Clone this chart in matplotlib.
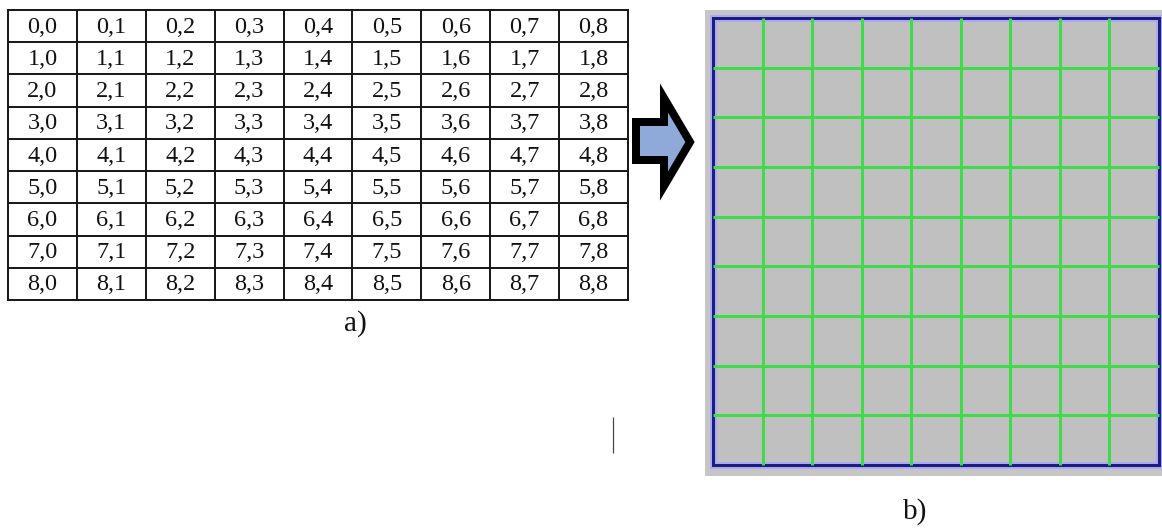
import matplotlib
matplotlib.use("Agg")
import matplotlib.pyplot as plt
from matplotlib.patches import Polygon, Rectangle

# ---- data ----
row_ids = [0, 1, 2, 3, 4, 5, 6, 7, 8]
col_ids = [0, 1, 2, 3, 4, 5, 6, 7, 8]
cell_labels = [[f"{r},{c}" for c in col_ids] for r in row_ids]
grid_cells = 9
caption_a = "a)"
caption_b = "b)"

W, H = 1162, 529
fig = plt.figure(figsize=(W / 100, H / 100), dpi=100)
ax = fig.add_axes([0, 0, 1, 1])
ax.set_xlim(0, W)
ax.set_ylim(H, 0)
ax.axis("off")

PX = 72 / 100  # points per pixel

# ---- table a) ----
tx0, tx1, ty0, ty1 = 8, 628, 10, 300
cw = (tx1 - tx0) / len(col_ids)
rh = (ty1 - ty0) / len(row_ids)
for i in range(len(row_ids) + 1):
    ax.plot([tx0, tx1], [ty0 + i * rh] * 2, color="#1a1a1a", lw=2.0 * PX,
            solid_capstyle="projecting")
for j in range(len(col_ids) + 1):
    ax.plot([tx0 + j * cw] * 2, [ty0, ty1], color="#1a1a1a", lw=2.0 * PX,
            solid_capstyle="projecting")
for r in row_ids:
    for c in col_ids:
        ax.text(tx0 + (c + 0.5) * cw, ty0 + (r + 0.5) * rh + 1,
                cell_labels[r][c], ha="center", va="center",
                fontsize=17.5, family="Liberation Serif", color="#111111")
ax.text(355, 324, caption_a, ha="center", va="center", fontsize=21,
        family="Liberation Serif", color="#111111")

# small stray vertical mark
ax.plot([613, 613], [417, 453], color="#444444", lw=1.2 * PX,
        solid_capstyle="butt")

# ---- arrow ----
arrow = Polygon([(636, 122), (664, 122), (664, 98), (690, 142),
                 (664, 186), (664, 160), (636, 160)], closed=True,
                facecolor="#8faad8", edgecolor="black", lw=8 * PX,
                joinstyle="miter")
ax.add_patch(arrow)

# ---- grid b) ----
ax.add_patch(Rectangle((705, 10), W - 705, 476 - 10, facecolor="#c6c6c6",
                       edgecolor="none"))
gx0, gx1, gy0, gy1 = 713, 1159, 18, 465
ax.add_patch(Rectangle((gx0, gy0), gx1 - gx0, gy1 - gy0, facecolor="#c0c0c0",
                       edgecolor="none"))
gw = (gx1 - gx0) / grid_cells
gh = (gy1 - gy0) / grid_cells
for k in range(1, grid_cells):
    ax.plot([gx0 + k * gw] * 2, [gy0, gy1], color="#3fdc4a", lw=3 * PX,
            solid_capstyle="butt")
    ax.plot([gx0, gx1], [gy0 + k * gh] * 2, color="#3fdc4a", lw=3 * PX,
            solid_capstyle="butt")
ax.add_patch(Rectangle((gx0, gy0), gx1 - gx0, gy1 - gy0, facecolor="none",
                       edgecolor="#aaaaf0", lw=7 * PX, joinstyle="miter"))
ax.add_patch(Rectangle((gx0, gy0), gx1 - gx0, gy1 - gy0, facecolor="none",
                       edgecolor="#1c1c80", lw=3 * PX, joinstyle="miter"))
ax.text(915, 512, caption_b, ha="center", va="center", fontsize=21,
        family="Liberation Serif", color="#111111")

fig.savefig("out.png", dpi=100, facecolor="white")
